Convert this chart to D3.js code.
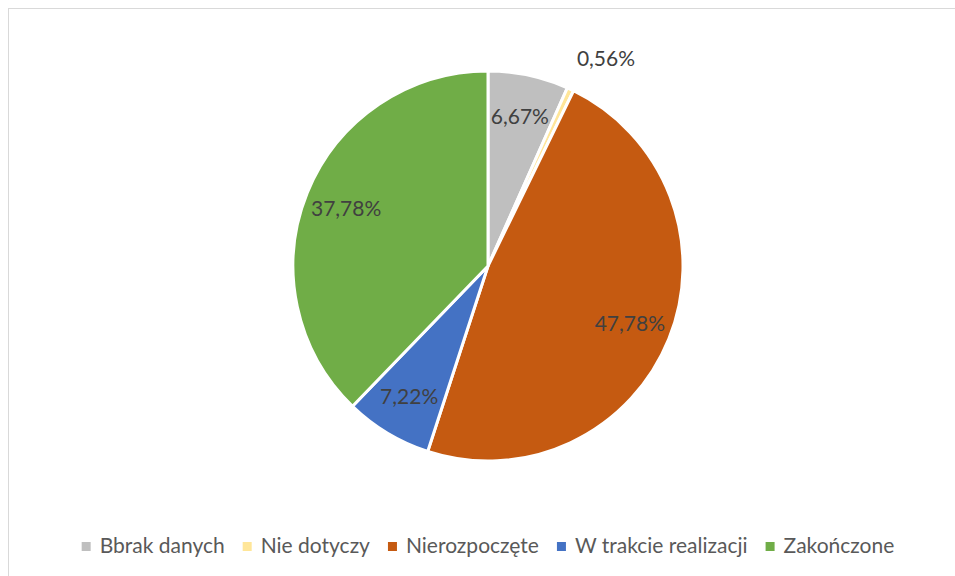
<!DOCTYPE html>
<html>
<head>
<meta charset="UTF-8">
<title>Pie</title>
<style>
  body { margin: 0; background: #fff; }
  svg { display: block; font-family: Lato, "Open Sans", sans-serif; }
</style>
</head>
<body>
<div id="chart"></div>
<script src="https://cdnjs.cloudflare.com/ajax/libs/d3/7.8.5/d3.min.js"></script>
<script>
const categories = ["Bbrak danych", "Nie dotyczy", "Nierozpoczęte", "W trakcie realizacji", "Zakończone"];
const values = [6.67, 0.56, 47.78, 7.22, 37.78];
const labels = ["6,67%", "0,56%", "47,78%", "7,22%", "37,78%"];
const colors = ["#bfbfbf", "#ffe699", "#c55a11", "#4472c4", "#70ad47"];

const width = 955, height = 576,
      cx = 488, cy = 266, r = 195;

const svg = d3.select('#chart').append('svg')
    .attr('width', width)
    .attr('height', height);

// chart frame
svg.append('rect')
    .attr('x', 8.5).attr('y', 8.5)
    .attr('width', width + 10).attr('height', height + 10)
    .attr('fill', 'none')
    .attr('stroke', '#d9d9d9');

const pie = d3.pie().sort(null).value(d => d)(values);
const arc = d3.arc().innerRadius(0).outerRadius(r);
const labelArc = d3.arc().innerRadius(153).outerRadius(153);
const outerArc = d3.arc().innerRadius(222).outerRadius(222);

const g = svg.append('g').attr('transform', 'translate(' + cx + ',' + cy + ')');

g.selectAll('path')
  .data(pie)
  .enter()
  .append('path')
    .attr('d', arc)
    .attr('fill', (d, i) => colors[i])
    .attr('stroke', '#fff')
    .attr('stroke-width', 3)
    .attr('stroke-linejoin', 'round');

const small = d => (d.endAngle - d.startAngle) < 0.1;

g.selectAll('text.lbl')
  .data(pie)
  .enter()
  .append('text')
    .attr('class', 'lbl')
    .attr('transform', d => {
      // tiny slices get their label outside the pie
      let c = small(d) ? outerArc.centroid(d) : labelArc.centroid(d);
      return 'translate(' + c[0] + ',' + c[1] + ')';
    })
    .attr('text-anchor', d => small(d) ? 'start' : 'middle')
    .attr('dx', d => small(d) ? -5 : 0)
    .attr('dy', d => small(d) ? '0.05em' : '0.35em')
    .style('font-size', '21px')
    .style('fill', '#404040')
    .text((d, i) => labels[i]);

// legend
const legend = svg.append('g');
const items = legend.selectAll('g')
  .data(categories)
  .enter()
  .append('g');
items.append('rect')
    .attr('width', 9).attr('height', 9)
    .attr('y', -4)
    .attr('fill', (d, i) => colors[i]);
items.append('text')
    .attr('x', 18)
    .attr('dy', '0.35em')
    .style('font-size', '21px')
    .style('fill', '#595959')
    .text(d => d);

let x = 0;
items.each(function() {
  const w = d3.select(this).select('text').node().getComputedTextLength();
  d3.select(this).attr('transform', 'translate(' + x + ',0)');
  x += 18 + w + 18;
});
const total = x - 18;
legend.attr('transform', 'translate(' + (cx - total / 2) + ',546)');
</script>
</body>
</html>
